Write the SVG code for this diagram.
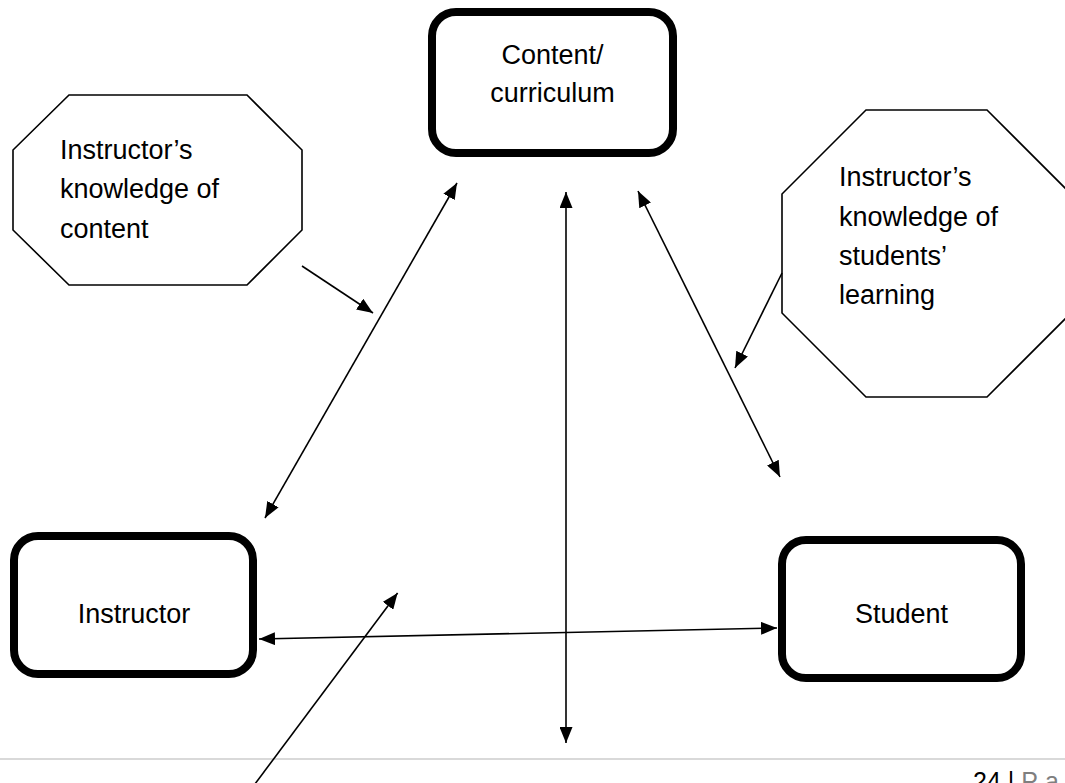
<svg xmlns="http://www.w3.org/2000/svg" width="1065" height="783" viewBox="0 0 1065 783">
<style>
.box{fill:#fff;stroke:#000;stroke-width:8}
.oct{fill:#fff;stroke:#000;stroke-width:1.6}
.t{font-family:"Liberation Sans",Arial,sans-serif;font-size:27px;fill:#000}
.c{text-anchor:middle}
.ln{stroke:#000;stroke-width:1.6;fill:none}
.foot{font-family:"Liberation Sans",Arial,sans-serif;font-size:25px;fill:#000}
</style>
<defs>
<marker id="ah" viewBox="0 0 16 13" refX="16" refY="6.5" markerWidth="16" markerHeight="13" markerUnits="userSpaceOnUse" orient="auto-start-reverse">
<path d="M0,0 L16,6.5 L0,13 z" fill="#000"/>
</marker>
</defs>
<rect width="1065" height="783" fill="#fff"/>
<g id="footer">
<line x1="0" y1="759" x2="1065" y2="759" stroke="#d9d9d9" stroke-width="2"/>
<text class="foot" x="973" y="790">24 | <tspan fill="#7f7f7f" letter-spacing="7">Page</tspan></text>
</g>
<g id="content">
<rect class="box" x="432" y="12" width="241" height="141" rx="24"/>
<text class="t c" x="552.5" y="64">Content/</text>
<text class="t c" x="552.5" y="102">curriculum</text>
</g>
<g id="instructor">
<rect class="box" x="14" y="536" width="239" height="138" rx="24"/>
<text class="t c" x="134" y="623">Instructor</text>
</g>
<g id="student">
<rect class="box" x="782" y="540" width="239" height="138" rx="24"/>
<text class="t c" x="901.5" y="623">Student</text>
</g>
<g id="knowledge-content">
<polygon class="oct" points="69,95 247,95 302,150 302,230 247,285 69,285 13,230 13,150"/>
<text class="t" x="60" y="159">Instructor’s</text>
<text class="t" x="60" y="198">knowledge of</text>
<text class="t" x="60" y="238">content</text>
</g>
<g id="knowledge-students">
<polygon class="oct" points="866,110 987,110 1071,194 1071,313 987,397 866,397 782,313 782,194"/>
<text class="t" x="839" y="186">Instructor’s</text>
<text class="t" x="839" y="226">knowledge of</text>
<text class="t" x="839" y="265">students’</text>
<text class="t" x="839" y="304">learning</text>
</g>
<g id="connectors">
<line class="ln" x1="265" y1="518" x2="457" y2="183" marker-start="url(#ah)" marker-end="url(#ah)"/>
<line class="ln" x1="638" y1="191" x2="780" y2="477" marker-start="url(#ah)" marker-end="url(#ah)"/>
<line class="ln" x1="566" y1="192" x2="566" y2="743" marker-start="url(#ah)" marker-end="url(#ah)"/>
<line class="ln" x1="259" y1="639" x2="777" y2="628" marker-start="url(#ah)" marker-end="url(#ah)"/>
<line class="ln" x1="302" y1="266" x2="373" y2="313" marker-end="url(#ah)"/>
<line class="ln" x1="782" y1="273" x2="735" y2="368" marker-end="url(#ah)"/>
<line class="ln" x1="243" y1="800" x2="397.6" y2="593" marker-end="url(#ah)"/>
</g>
</svg>
